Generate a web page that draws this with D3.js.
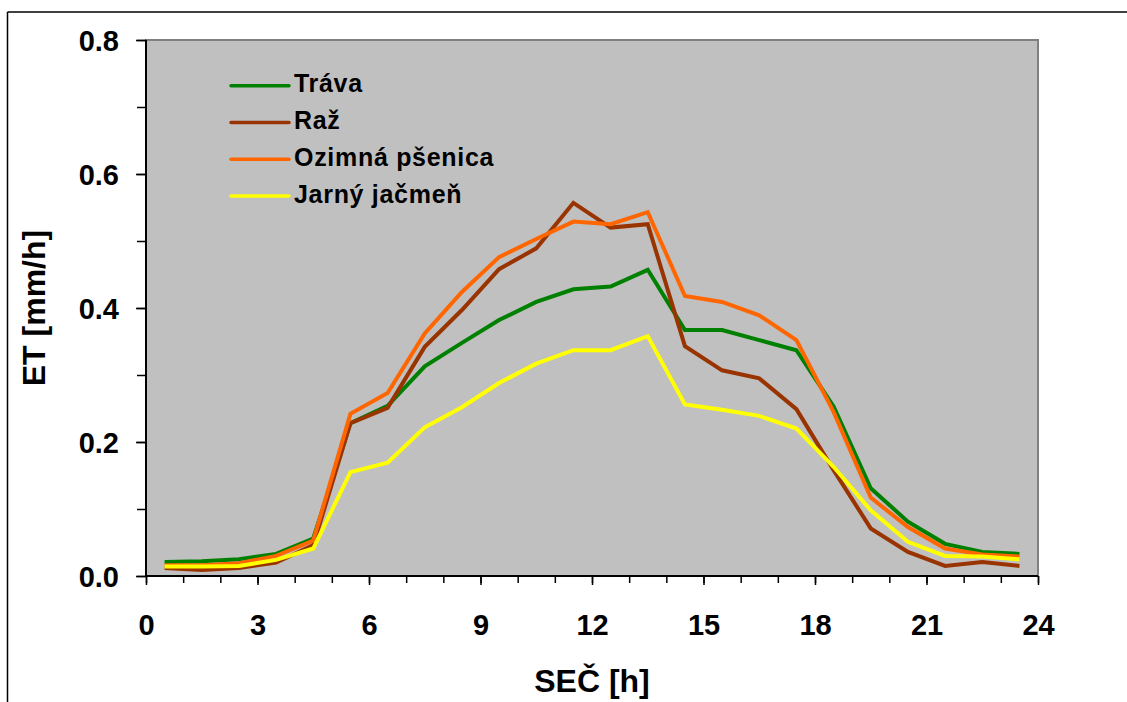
<!DOCTYPE html>
<html>
<head>
<meta charset="utf-8">
<script src="https://cdn.jsdelivr.net/npm/d3@7"></script>
<style>
  body { margin: 0; background: #fff; }
  svg text { font-family: "Liberation Sans", Arial, sans-serif; font-weight: bold; fill: #000; }
</style>
</head>
<body>
<div class="chart"></div>
<script>
const width = 1127;
const height = 702;

// hodiny SEČ (stred hodinového intervalu)
const hours = [0.5, 1.5, 2.5, 3.5, 4.5, 5.5, 6.5, 7.5, 8.5, 9.5, 10.5, 11.5,
  12.5, 13.5, 14.5, 15.5, 16.5, 17.5, 18.5, 19.5, 20.5, 21.5, 22.5, 23.5];

const trava = [0.021, 0.022, 0.025, 0.033, 0.056, 0.228, 0.254, 0.313, 0.348, 0.382, 0.409, 0.428,
  0.432, 0.457, 0.367, 0.367, 0.352, 0.337, 0.253, 0.131, 0.081, 0.048, 0.036, 0.033];
const raz = [0.012, 0.009, 0.012, 0.020, 0.046, 0.228, 0.251, 0.342, 0.397, 0.458, 0.489, 0.557,
  0.520, 0.525, 0.343, 0.307, 0.295, 0.249, 0.158, 0.071, 0.036, 0.015, 0.021, 0.015];
const ozimnaPsenica = [0.016, 0.016, 0.019, 0.030, 0.053, 0.242, 0.273, 0.362, 0.424, 0.476, 0.503, 0.529,
  0.525, 0.543, 0.418, 0.409, 0.389, 0.352, 0.245, 0.117, 0.073, 0.041, 0.032, 0.029];
const jarnyJacmen = [0.014, 0.014, 0.015, 0.024, 0.041, 0.155, 0.169, 0.222, 0.252, 0.288, 0.317, 0.337,
  0.337, 0.358, 0.256, 0.248, 0.239, 0.220, 0.163, 0.098, 0.051, 0.030, 0.029, 0.025];

const seriesNames = ["Tráva", "Raž", "Ozimná pšenica", "Jarný jačmeň"];
const seriesValues = [trava, raz, ozimnaPsenica, jarnyJacmen];
const seriesColors = ["#008000", "#993300", "#FF6600", "#FFFF00"];

const xTicks = [0, 3, 6, 9, 12, 15, 18, 21, 24];
const yTicks = [0, 0.2, 0.4, 0.6, 0.8];

const plotLeft = 146, plotRight = 1038, plotTop = 40, plotBottom = 576;

const svg = d3.select(".chart").append("svg")
  .attr("width", width)
  .attr("height", height);

// ramik okolo grafu
svg.append("line")
  .attr("x1", 7.5).attr("y1", 12).attr("x2", width).attr("y2", 12)
  .attr("stroke", "#000").attr("stroke-width", 1.5);
svg.append("line")
  .attr("x1", 7.5).attr("y1", 12).attr("x2", 7.5).attr("y2", height)
  .attr("stroke", "#000").attr("stroke-width", 1.5);

const x = d3.scaleLinear().domain([0, 24]).range([plotLeft, plotRight]);
const y = d3.scaleLinear().domain([0, 0.8]).range([plotBottom, plotTop]);

svg.append("rect")
  .attr("x", plotLeft).attr("y", plotTop)
  .attr("width", plotRight - plotLeft).attr("height", plotBottom - plotTop)
  .attr("fill", "#C0C0C0")
  .attr("stroke", "#808080")
  .attr("stroke-width", 2);

// minor ticks
const yAxisMinor = d3.axisLeft(y).tickValues(d3.range(0, 0.81, 0.1)).tickSize(9).tickFormat("");
const xAxisMinor = d3.axisBottom(x).tickValues(d3.range(0, 25, 1)).tickSize(7).tickFormat("");
svg.append("g").attr("transform", `translate(${plotLeft},0)`).call(yAxisMinor)
  .call(g => g.select(".domain").remove())
  .selectAll("line").attr("stroke", "#000").attr("stroke-width", 1.5);
svg.append("g").attr("transform", `translate(0,${plotBottom})`).call(xAxisMinor)
  .call(g => g.select(".domain").remove())
  .selectAll("line").attr("stroke", "#000").attr("stroke-width", 1.5);

const yAxis = d3.axisLeft(y).tickValues(yTicks).tickSize(10).tickPadding(17)
  .tickFormat(d3.format(".1f"));
const xAxis = d3.axisBottom(x).tickValues(xTicks).tickSize(9).tickPadding(29)
  .tickFormat(d3.format("d"));

const gy = svg.append("g").attr("transform", `translate(${plotLeft},0)`).call(yAxis);
gy.select(".domain").attr("stroke", "#000").attr("stroke-width", 2).attr("d", `M0,${plotTop}V${plotBottom}`);
gy.selectAll("line").attr("stroke", "#000").attr("stroke-width", 1.5);
gy.selectAll("text").attr("font-size", 29).attr("font-family", null).attr("dy", "0.36em");

const gx = svg.append("g").attr("transform", `translate(0,${plotBottom})`).call(xAxis);
gx.select(".domain").attr("stroke", "#000").attr("stroke-width", 2).attr("d", `M${plotLeft},0H${plotRight}`);
gx.selectAll("line").attr("stroke", "#000").attr("stroke-width", 1.5);
gx.selectAll("text").attr("font-size", 29).attr("font-family", null);
svg.selectAll(".tick text").style("font-weight", "bold");

// axis titles
svg.append("text")
  .attr("x", (plotLeft + plotRight) / 2).attr("y", 692)
  .attr("text-anchor", "middle").attr("font-size", 32)
  .text("SEČ [h]");
svg.append("text")
  .attr("transform", `translate(45,${(plotTop + plotBottom) / 2}) rotate(-90)`)
  .attr("text-anchor", "middle").attr("font-size", 32)
  .text("ET [mm/h]");

// lines
const line = d3.line()
  .x((d, i) => x(hours[i]))
  .y(d => y(d));

seriesValues.forEach((vals, k) => {
  svg.append("path")
    .datum(vals)
    .attr("d", line)
    .attr("fill", "none")
    .attr("stroke", seriesColors[k])
    .attr("stroke-width", 4)
    .attr("stroke-linejoin", "miter");
});

// legend
const legend = svg.append("g");
seriesNames.forEach((name, k) => {
  const ly = 85.7 + k * 36.8;
  legend.append("line")
    .attr("x1", 231).attr("x2", 289)
    .attr("y1", ly).attr("y2", ly)
    .attr("stroke", seriesColors[k])
    .attr("stroke-width", 3.5)
    .attr("stroke-linecap", "round");
  legend.append("text")
    .attr("x", 294).attr("y", ly + 6.5)
    .attr("font-size", 25)
    .attr("letter-spacing", 0.7)
    .text(name);
});
</script>
</body>
</html>
